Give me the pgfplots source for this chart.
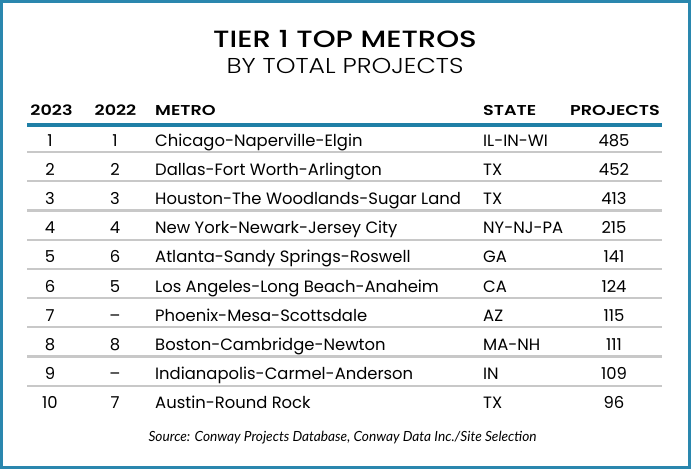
\documentclass[border=0pt]{standalone}
\usepackage{pgfplots}
\pgfplotsset{compat=1.18}
\usepackage{pgfplotstable}
\usepackage{fontspec}
\setmainfont{Poppins}
\newfontfamily\popmed{Poppins Medium}
\newfontfamily\poplight{Poppins Light}
\newfontfamily\popsemi{Poppins SemiBold}
\newfontfamily\srcfont{Lato}
\definecolor{frame}{HTML}{2A87AE}
\definecolor{rulec}{HTML}{1F7FA6}
\definecolor{sepc}{HTML}{C8C8C8}
\newcommand\rowfont{\fontsize{16.4bp}{19bp}\selectfont}
\pgfplotstableread[col sep=comma]{
r23,r22,metro,state,projects
1,1,Chicago-Naperville-Elgin,IL-IN-WI,485
2,2,Dallas-Fort Worth-Arlington,TX,452
3,3,Houston-The Woodlands-Sugar Land,TX,413
4,4,New York-Newark-Jersey City,NY-NJ-PA,215
5,6,Atlanta-Sandy Springs-Roswell,GA,141
6,5,Los Angeles-Long Beach-Anaheim,CA,124
7,--,Phoenix-Mesa-Scottsdale,AZ,115
8,8,Boston-Cambridge-Newton,MA-NH,111
9,--,Indianapolis-Carmel-Anderson,IN,109
10,7,Austin-Round Rock,TX,96
}\metros
\begin{document}
\begin{tikzpicture}
\begin{axis}[scale only axis, width=691bp, height=469bp,
  xmin=0, xmax=691, ymin=0, ymax=469, y dir=reverse,
  hide axis, clip=false,
  nodes near coords align=center,
  every node near coord/.append style={inner sep=0pt, font=\rowfont, text=black},
  point meta=explicit symbolic]
\fill[white] (axis cs:0,0) rectangle (axis cs:691,469);
\draw[frame, line width=3bp] (axis cs:1.5,1.5) rectangle (axis cs:689.5,467.5);
% title
\node[anchor=base, inner sep=0pt] at (axis cs:345,48) {\scalebox{1.24}[1]{\popmed\fontsize{23.5bp}{26bp}\selectfont TIER 1 TOP METROS}};
\node[anchor=base, inner sep=0pt] at (axis cs:345,73.3) {\scalebox{1.17}[1]{\poplight\fontsize{21.5bp}{25bp}\selectfont BY TOTAL PROJECTS}};
% header
\newcommand\hd[1]{\scalebox{1.23}[1]{\popsemi\fontsize{14.3bp}{17bp}\selectfont #1}}
\begin{scope}[every node/.style={anchor=base, inner sep=0pt}]
\node at (axis cs:51.5,115) {\hd{2023}};
\node at (axis cs:115.5,115) {\hd{2022}};
\node[anchor=base west] at (axis cs:155,115) {\hd{METRO}};
\node[anchor=base west] at (axis cs:483,115) {\hd{STATE}};
\node at (axis cs:615,115) {\hd{PROJECTS}};
\end{scope}
% separators
\pgfplotsinvokeforeach{0,...,8}{
  \draw[sepc, line width=2.2bp] (axis cs:27,{152+29.2*#1}) -- (axis cs:662,{152+29.2*#1});
}
\draw[rulec, line width=4bp] (axis cs:27,125) -- (axis cs:662,125);
% columns
\addplot[draw=none, mark=none, nodes near coords, every node near coord/.append style={anchor=base}]
  table[x expr=50, y expr=146+29.2*\coordindex, meta=r23] {\metros};
\addplot[draw=none, mark=none, nodes near coords, every node near coord/.append style={anchor=base}]
  table[x expr=115, y expr=146+29.2*\coordindex, meta=r22] {\metros};
\addplot[draw=none, mark=none, nodes near coords, every node near coord/.append style={anchor=base west}]
  table[x expr=155, y expr=146+29.2*\coordindex, meta=metro] {\metros};
\addplot[draw=none, mark=none, nodes near coords, every node near coord/.append style={anchor=base west}]
  table[x expr=483, y expr=146+29.2*\coordindex, meta=state] {\metros};
\addplot[draw=none, mark=none, nodes near coords, every node near coord/.append style={anchor=base}]
  table[x expr=614, y expr=146+29.2*\coordindex, meta=projects] {\metros};
% source
\node[anchor=base, inner sep=0pt] at (axis cs:342.5,441) {\scalebox{0.98}[1]{\srcfont\itshape\fontsize{14bp}{16bp}\selectfont Source: Conway Projects Database, Conway Data Inc./Site Selection}};
\end{axis}
\end{tikzpicture}
\end{document}
